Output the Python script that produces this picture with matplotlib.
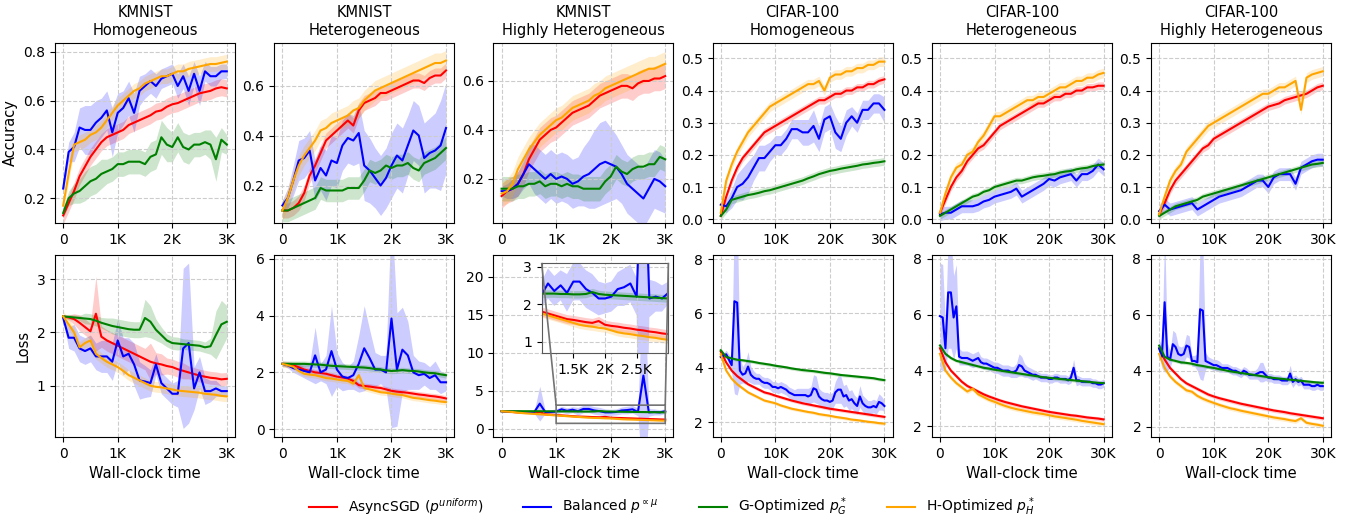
import numpy as np
import matplotlib.pyplot as plt
from matplotlib.ticker import FuncFormatter, MultipleLocator

# time extent of each dataset (x of every series = evenly spaced over it)
KM_T_MAX = 3000
CF_T_MAX = 30000

# ---------------- KMNIST, homogeneous ----------------
kh_acc_async = [0.13, 0.18, 0.23, 0.29, 0.33, 0.37, 0.40, 0.43, 0.45, 0.46, 0.47, 0.48, 0.50, 0.51, 0.52, 0.53,
                0.54, 0.555, 0.56, 0.575, 0.585, 0.59, 0.60, 0.61, 0.62, 0.63, 0.635, 0.64, 0.65, 0.655, 0.65]
kh_acc_bal = [0.24, 0.39, 0.41, 0.49, 0.48, 0.48, 0.51, 0.53, 0.56, 0.47, 0.55, 0.57, 0.61, 0.55, 0.64, 0.66,
              0.68, 0.66, 0.69, 0.70, 0.71, 0.66, 0.70, 0.64, 0.71, 0.64, 0.72, 0.70, 0.70, 0.72, 0.72]
kh_acc_bal_sd = [0.02, 0.04, 0.06, 0.08, 0.10, 0.10, 0.09, 0.08, 0.08, 0.10, 0.08, 0.07, 0.07, 0.08, 0.06, 0.05,
                 0.05, 0.05, 0.04, 0.04, 0.04, 0.05, 0.05, 0.06, 0.05, 0.06, 0.04, 0.04, 0.04, 0.03, 0.03]
kh_acc_g = [0.14, 0.20, 0.22, 0.23, 0.25, 0.27, 0.28, 0.30, 0.31, 0.32, 0.34, 0.34, 0.35, 0.35, 0.35, 0.34,
            0.37, 0.38, 0.45, 0.42, 0.41, 0.45, 0.41, 0.40, 0.42, 0.42, 0.43, 0.42, 0.36, 0.44, 0.42]
kh_acc_g_sd = [0.02, 0.03, 0.04, 0.05, 0.06, 0.06, 0.06, 0.06, 0.05, 0.05, 0.05, 0.05, 0.05, 0.05, 0.05, 0.05,
               0.06, 0.06, 0.07, 0.07, 0.06, 0.06, 0.06, 0.06, 0.05, 0.05, 0.05, 0.06, 0.09, 0.05, 0.04]
kh_acc_h = [0.17, 0.30, 0.42, 0.43, 0.44, 0.46, 0.47, 0.49, 0.52, 0.55, 0.58, 0.60, 0.62, 0.64, 0.65, 0.67,
            0.68, 0.69, 0.70, 0.70, 0.71, 0.72, 0.72, 0.73, 0.735, 0.74, 0.745, 0.75, 0.75, 0.755, 0.76]

kh_loss_async = [2.30, 2.28, 2.25, 2.18, 2.10, 2.02, 2.35, 1.92, 1.85, 1.80, 1.75, 1.70, 1.65, 1.60, 1.55, 1.50,
                 1.45, 1.42, 1.40, 1.37, 1.35, 1.31, 1.28, 1.25, 1.22, 1.19, 1.17, 1.15, 1.14, 1.12, 1.13]
kh_loss_async_sd = [0.02, 0.05, 0.10, 0.15, 0.15, 0.15, 0.70, 0.20, 0.20, 0.20, 0.20, 0.20, 0.20, 0.20, 0.20, 0.20,
                    0.35, 0.20, 0.20, 0.15, 0.15, 0.15, 0.15, 0.12, 0.12, 0.12, 0.12, 0.12, 0.12, 0.12, 0.12]
kh_loss_bal = [2.27, 1.90, 1.90, 1.70, 1.65, 1.70, 1.55, 1.55, 1.55, 1.45, 1.85, 1.55, 1.60, 1.40, 1.10, 1.08,
               1.05, 1.40, 1.05, 0.95, 0.85, 0.85, 1.70, 1.80, 0.95, 1.25, 0.90, 0.90, 0.95, 0.90, 0.90]
kh_loss_bal_sd = [0.05, 0.20, 0.25, 0.25, 0.25, 0.25, 0.25, 0.30, 0.30, 0.35, 0.40, 0.35, 0.30, 0.40, 0.35, 0.30,
                  0.25, 0.20, 0.20, 0.20, 0.20, 0.25, 1.50, 1.50, 0.40, 0.30, 0.25, 0.20, 0.15, 0.10, 0.10]
kh_loss_g = [2.30, 2.29, 2.28, 2.27, 2.26, 2.25, 2.22, 2.18, 2.15, 2.12, 2.10, 2.08, 2.06, 2.05, 2.05, 2.27,
             2.20, 2.05, 1.95, 1.85, 1.80, 1.79, 1.78, 1.77, 1.76, 1.75, 1.72, 1.74, 1.95, 2.15, 2.20]
kh_loss_g_sd = [0.02, 0.05, 0.05, 0.05, 0.10, 0.10, 0.10, 0.10, 0.12, 0.15, 0.15, 0.15, 0.15, 0.15, 0.15, 0.35,
                0.30, 0.20, 0.15, 0.12, 0.12, 0.12, 0.10, 0.10, 0.10, 0.10, 0.10, 0.15, 0.45, 0.45, 0.30]
kh_loss_h = [2.30, 2.15, 2.00, 1.72, 1.80, 1.85, 1.60, 1.52, 1.45, 1.40, 1.35, 1.28, 1.20, 1.15, 1.10, 1.05,
             1.00, 0.98, 0.97, 0.95, 0.93, 0.91, 0.90, 0.89, 0.88, 0.87, 0.85, 0.84, 0.83, 0.81, 0.80]

# ---------------- KMNIST, heterogeneous ----------------
ke_acc_async = [0.10, 0.10, 0.11, 0.13, 0.17, 0.24, 0.28, 0.33, 0.38, 0.40, 0.42, 0.44, 0.46, 0.44, 0.50, 0.53,
                0.54, 0.55, 0.57, 0.57, 0.58, 0.59, 0.60, 0.61, 0.62, 0.62, 0.61, 0.63, 0.64, 0.64, 0.66]
ke_acc_bal = [0.12, 0.15, 0.22, 0.30, 0.31, 0.34, 0.22, 0.27, 0.24, 0.30, 0.29, 0.36, 0.39, 0.38, 0.41, 0.28,
              0.26, 0.23, 0.20, 0.23, 0.28, 0.32, 0.30, 0.36, 0.42, 0.40, 0.31, 0.33, 0.34, 0.36, 0.43]
ke_acc_bal_sd = [0.02, 0.04, 0.06, 0.08, 0.08, 0.08, 0.08, 0.09, 0.10, 0.10, 0.10, 0.10, 0.10, 0.10, 0.12, 0.14,
                 0.13, 0.12, 0.12, 0.12, 0.13, 0.13, 0.13, 0.12, 0.12, 0.12, 0.14, 0.14, 0.15, 0.18, 0.18]
ke_acc_g = [0.10, 0.10, 0.11, 0.12, 0.13, 0.14, 0.15, 0.19, 0.18, 0.18, 0.18, 0.18, 0.19, 0.19, 0.19, 0.22,
            0.26, 0.25, 0.26, 0.28, 0.27, 0.28, 0.28, 0.29, 0.27, 0.26, 0.29, 0.30, 0.31, 0.33, 0.35]
ke_acc_h = [0.10, 0.15, 0.22, 0.28, 0.32, 0.35, 0.38, 0.42, 0.43, 0.45, 0.46, 0.47, 0.48, 0.50, 0.51, 0.54,
            0.56, 0.58, 0.59, 0.60, 0.61, 0.62, 0.63, 0.64, 0.65, 0.66, 0.67, 0.68, 0.69, 0.69, 0.70]

ke_loss_async = [2.30, 2.28, 2.25, 2.18, 2.10, 2.05, 2.00, 1.98, 1.95, 1.90, 1.85, 1.82, 1.78, 1.70, 1.55, 1.52,
                 1.50, 1.47, 1.45, 1.40, 1.35, 1.32, 1.30, 1.28, 1.25, 1.22, 1.20, 1.17, 1.15, 1.12, 1.08]
ke_loss_bal = [2.30, 2.25, 2.15, 2.10, 2.05, 2.00, 2.60, 2.00, 2.10, 2.75, 2.10, 1.85, 1.80, 1.90, 2.30, 2.85,
               2.50, 2.10, 2.10, 2.00, 3.90, 2.10, 2.80, 2.60, 2.00, 1.90, 1.95, 1.80, 1.90, 1.65, 1.65]
ke_loss_bal_sd = [0.02, 0.10, 0.15, 0.20, 0.25, 0.30, 1.00, 0.30, 0.50, 1.60, 0.60, 0.50, 0.40, 0.50, 1.00, 1.50,
                  1.00, 0.60, 0.50, 0.60, 3.85, 2.00, 1.50, 1.20, 0.60, 0.50, 0.40, 0.40, 0.50, 0.40, 0.30]
ke_loss_g = [2.30, 2.30, 2.30, 2.30, 2.30, 2.29, 2.28, 2.27, 2.25, 2.23, 2.22, 2.21, 2.20, 2.19, 2.18, 2.17,
             2.15, 2.12, 2.10, 2.07, 2.05, 2.06, 2.08, 2.06, 2.05, 2.03, 2.00, 1.98, 1.97, 1.93, 1.90]
ke_loss_h = [2.30, 2.25, 2.20, 2.05, 1.95, 1.92, 1.90, 1.85, 1.80, 1.78, 1.75, 1.72, 1.70, 1.60, 1.90, 1.45,
             1.40, 1.35, 1.30, 1.28, 1.25, 1.22, 1.20, 1.15, 1.10, 1.08, 1.05, 1.02, 1.00, 0.97, 0.95]

# ---------------- KMNIST, highly heterogeneous ----------------
kx_acc_async = [0.13, 0.15, 0.16, 0.18, 0.22, 0.28, 0.32, 0.36, 0.38, 0.40, 0.41, 0.43, 0.45, 0.47, 0.48, 0.49,
                0.50, 0.52, 0.54, 0.55, 0.56, 0.57, 0.58, 0.58, 0.57, 0.59, 0.60, 0.60, 0.61, 0.61, 0.62]
kx_acc_bal = [0.15, 0.15, 0.16, 0.18, 0.22, 0.26, 0.24, 0.22, 0.20, 0.22, 0.20, 0.21, 0.20, 0.18, 0.19, 0.21,
              0.22, 0.24, 0.26, 0.27, 0.26, 0.25, 0.22, 0.18, 0.16, 0.14, 0.12, 0.16, 0.20, 0.19, 0.17]
kx_acc_bal_sd = [0.02, 0.03, 0.04, 0.05, 0.06, 0.08, 0.10, 0.10, 0.10, 0.10, 0.10, 0.10, 0.10, 0.10, 0.10, 0.12,
                 0.14, 0.16, 0.17, 0.17, 0.15, 0.13, 0.12, 0.12, 0.12, 0.12, 0.12, 0.12, 0.12, 0.12, 0.11]
kx_acc_g = [0.16, 0.16, 0.16, 0.17, 0.17, 0.18, 0.18, 0.19, 0.17, 0.18, 0.18, 0.17, 0.18, 0.17, 0.17, 0.16,
            0.16, 0.16, 0.16, 0.19, 0.21, 0.25, 0.23, 0.22, 0.24, 0.25, 0.25, 0.26, 0.26, 0.29, 0.28]
kx_acc_h = [0.14, 0.15, 0.18, 0.24, 0.28, 0.32, 0.35, 0.38, 0.40, 0.42, 0.44, 0.45, 0.47, 0.49, 0.50, 0.51,
            0.52, 0.54, 0.55, 0.57, 0.58, 0.59, 0.60, 0.61, 0.62, 0.63, 0.64, 0.65, 0.65, 0.66, 0.67]

kx_loss_async = [2.30, 2.25, 2.20, 2.15, 2.10, 2.07, 2.05, 2.20, 1.90, 1.85, 1.80, 1.75, 1.70, 1.65, 1.60, 1.58,
                 1.55, 1.52, 1.50, 1.55, 1.45, 1.42, 1.40, 1.37, 1.35, 1.32, 1.30, 1.27, 1.25, 1.22, 1.20]
kx_loss_bal = [2.30, 2.30, 2.25, 2.25, 2.20, 2.20, 2.20, 3.30, 2.20, 2.20, 2.25, 2.55, 2.35, 2.50, 2.30, 2.60,
               2.60, 2.40, 2.30, 2.15, 2.15, 2.20, 2.40, 2.45, 2.55, 2.20, 7.00, 2.15, 2.20, 2.15, 2.30]
kx_loss_bal_sd = [0.02, 0.05, 0.10, 0.10, 0.10, 0.15, 0.20, 2.30, 0.20, 0.30, 0.35, 0.40, 0.40, 0.40, 0.50, 0.50,
                  0.50, 0.50, 0.50, 0.45, 0.40, 0.40, 0.45, 0.50, 0.50, 0.50, 15.0, 0.50, 0.40, 0.35, 0.30]
kx_loss_g = [2.30, 2.30, 2.30, 2.30, 2.30, 2.30, 2.30, 2.30, 2.29, 2.29, 2.28, 2.28, 2.28, 2.27, 2.27, 2.26,
             2.26, 2.27, 2.32, 2.27, 2.25, 2.24, 2.23, 2.22, 2.21, 2.20, 2.19, 2.18, 2.17, 2.16, 2.15]
kx_loss_h = [2.30, 2.25, 2.20, 2.10, 2.05, 2.00, 1.95, 1.90, 1.85, 1.80, 1.75, 1.70, 1.65, 1.60, 1.55, 1.50,
             1.45, 1.42, 1.40, 1.37, 1.35, 1.30, 1.25, 1.22, 1.20, 1.17, 1.15, 1.12, 1.10, 1.07, 1.05]

# ---------------- CIFAR-100, homogeneous ----------------
ch_acc_async = [0.01, 0.07, 0.12, 0.16, 0.19, 0.21, 0.23, 0.25, 0.27, 0.28, 0.29, 0.30, 0.31, 0.32, 0.33, 0.34,
                0.35, 0.36, 0.37, 0.37, 0.38, 0.39, 0.39, 0.40, 0.40, 0.41, 0.41, 0.42, 0.42, 0.43, 0.435]
ch_acc_bal = [0.045, 0.04, 0.065, 0.10, 0.11, 0.13, 0.16, 0.19, 0.19, 0.21, 0.23, 0.23, 0.25, 0.28, 0.28, 0.27,
              0.27, 0.29, 0.25, 0.31, 0.32, 0.27, 0.25, 0.30, 0.32, 0.30, 0.34, 0.34, 0.36, 0.36, 0.34]
ch_acc_bal_sd = [0.01, 0.02, 0.03, 0.04, 0.05, 0.05, 0.04, 0.04, 0.04, 0.03, 0.03, 0.03, 0.03, 0.03, 0.03, 0.04,
                 0.04, 0.05, 0.04, 0.04, 0.04, 0.05, 0.04, 0.04, 0.03, 0.03, 0.03, 0.03, 0.03, 0.03, 0.04]
ch_acc_g = [0.01, 0.03, 0.06, 0.065, 0.07, 0.075, 0.078, 0.082, 0.087, 0.09, 0.095, 0.10, 0.105, 0.11, 0.115,
            0.12, 0.127, 0.133, 0.14, 0.145, 0.15, 0.153, 0.157, 0.16, 0.163, 0.166, 0.17, 0.172, 0.175, 0.177, 0.18]
ch_acc_h = [0.02, 0.12, 0.17, 0.21, 0.24, 0.27, 0.29, 0.31, 0.33, 0.35, 0.36, 0.37, 0.38, 0.39, 0.40, 0.41,
            0.42, 0.42, 0.43, 0.40, 0.44, 0.45, 0.45, 0.46, 0.46, 0.47, 0.47, 0.48, 0.48, 0.49, 0.49]

ch_loss_async = [4.60, 4.20, 3.90, 3.70, 3.55, 3.40, 3.30, 3.20, 3.10, 3.05, 2.98, 2.92, 2.86, 2.80, 2.75, 2.70,
                 2.66, 2.62, 2.58, 2.54, 2.50, 2.47, 2.44, 2.41, 2.38, 2.35, 2.32, 2.29, 2.26, 2.23, 2.20]
ch_loss_bal = [4.40, 4.45, 4.50, 4.30, 4.10, 6.45, 6.40, 3.90, 3.75, 3.80,
               4.05, 3.75, 3.65, 3.60, 3.60, 3.50, 3.45, 3.45, 3.40, 3.30,
               3.30, 3.25, 3.30, 3.25, 3.20, 3.10, 3.05, 3.00, 3.00, 3.00,
               3.00, 3.00, 2.95, 3.00, 3.25, 3.20, 2.95, 2.85, 2.80, 2.80,
               2.75, 2.80, 3.10, 3.20, 3.20, 2.95, 3.00, 2.80, 2.85, 2.70,
               2.60, 2.95, 2.70, 2.60, 2.55, 2.55, 2.60, 2.55, 2.75, 2.70,
               2.60]
ch_loss_bal_sd = [0.05, 0.10, 0.15, 0.20, 0.30, 3.40, 3.40, 0.50, 0.30, 0.40,
                  0.55, 0.30, 0.25, 0.20, 0.20, 0.20, 0.20, 0.20, 0.20, 0.20,
                  0.20, 0.20, 0.20, 0.20, 0.20, 0.20, 0.20, 0.20, 0.25, 0.25,
                  0.25, 0.25, 0.30, 0.30, 0.50, 0.50, 0.30, 0.30, 0.30, 0.30,
                  0.30, 0.30, 0.40, 0.50, 0.50, 0.40, 0.40, 0.35, 0.35, 0.30,
                  0.30, 0.40, 0.30, 0.30, 0.25, 0.25, 0.25, 0.25, 0.30, 0.25,
                  0.20]
ch_loss_g = [4.65, 4.40, 4.35, 4.30, 4.28, 4.25, 4.22, 4.18, 4.15, 4.12, 4.08, 4.05, 4.02, 3.98, 3.95, 3.92,
             3.90, 3.88, 3.85, 3.82, 3.80, 3.77, 3.74, 3.72, 3.70, 3.68, 3.66, 3.64, 3.62, 3.58, 3.55]
ch_loss_h = [4.50, 3.90, 3.60, 3.40, 3.25, 3.10, 3.00, 2.90, 2.80, 2.75, 2.70, 2.62, 2.56, 2.50, 2.46, 2.42,
             2.38, 2.35, 2.30, 2.27, 2.24, 2.20, 2.17, 2.14, 2.10, 2.08, 2.05, 2.02, 2.00, 1.97, 1.95]

# ---------------- CIFAR-100, heterogeneous ----------------
ce_acc_async = [0.02, 0.06, 0.10, 0.13, 0.15, 0.18, 0.20, 0.22, 0.23, 0.25, 0.27, 0.29, 0.30, 0.31, 0.32, 0.33,
                0.34, 0.35, 0.36, 0.36, 0.37, 0.38, 0.38, 0.39, 0.39, 0.40, 0.40, 0.41, 0.41, 0.415, 0.415]
ce_acc_bal = [0.015, 0.02, 0.02, 0.03, 0.04, 0.04, 0.04, 0.045, 0.055, 0.06, 0.07, 0.075, 0.08, 0.085, 0.095,
              0.07, 0.08, 0.09, 0.10, 0.11, 0.125, 0.12, 0.13, 0.135, 0.14, 0.12, 0.14, 0.14, 0.15, 0.17, 0.155]
ce_acc_g = [0.01, 0.02, 0.03, 0.04, 0.05, 0.06, 0.07, 0.075, 0.085, 0.09, 0.10, 0.105, 0.11, 0.115, 0.12, 0.12,
            0.125, 0.13, 0.133, 0.135, 0.138, 0.14, 0.145, 0.148, 0.15, 0.155, 0.158, 0.16, 0.165, 0.168, 0.17]
ce_acc_h = [0.02, 0.08, 0.13, 0.16, 0.17, 0.20, 0.21, 0.24, 0.26, 0.29, 0.32, 0.32, 0.33, 0.34, 0.35, 0.36,
            0.37, 0.37, 0.38, 0.38, 0.39, 0.40, 0.41, 0.41, 0.42, 0.43, 0.43, 0.44, 0.44, 0.45, 0.455]

ce_loss_async = [4.80, 4.30, 4.00, 3.80, 3.60, 3.45, 3.35, 3.25, 3.15, 3.07, 3.00, 2.93, 2.87, 2.82, 2.77, 2.72,
                 2.68, 2.64, 2.60, 2.56, 2.52, 2.49, 2.46, 2.43, 2.40, 2.38, 2.35, 2.32, 2.30, 2.28, 2.25]
ce_loss_bal = [5.95, 5.90, 4.80, 6.80, 6.80, 5.90, 6.30, 4.50, 4.45, 4.45,
               4.45, 4.40, 4.35, 4.40, 4.45, 4.30, 4.25, 4.25, 4.20, 4.15,
               4.10, 4.10, 4.05, 4.00, 4.00, 4.00, 3.95, 3.95, 4.00, 4.20,
               4.15, 4.00, 3.95, 3.90, 3.85, 3.85, 3.80, 3.75, 3.75, 3.75,
               3.70, 3.70, 3.75, 3.75, 3.70, 3.70, 3.70, 3.65, 3.75, 4.10,
               3.65, 3.65, 3.60, 3.60, 3.60, 3.60, 3.55, 3.55, 3.50, 3.50,
               3.55]
ce_loss_bal_sd = [1.90, 1.90, 0.80, 2.00, 2.00, 1.50, 1.50, 0.30, 0.25, 0.25,
                  0.25, 0.25, 0.25, 0.25, 0.25, 0.20, 0.20, 0.20, 0.20, 0.20,
                  0.20, 0.20, 0.20, 0.20, 0.20, 0.20, 0.20, 0.20, 0.25, 0.40,
                  0.35, 0.25, 0.20, 0.20, 0.20, 0.15, 0.15, 0.15, 0.15, 0.15,
                  0.15, 0.15, 0.15, 0.15, 0.15, 0.15, 0.15, 0.15, 0.20, 0.30,
                  0.20, 0.15, 0.15, 0.15, 0.15, 0.15, 0.15, 0.15, 0.15, 0.15,
                  0.15]
ce_loss_g = [4.90, 4.60, 4.45, 4.35, 4.30, 4.25, 4.20, 4.15, 4.10, 4.07, 4.03, 4.00, 3.97, 3.94, 3.91, 3.88,
             3.85, 3.82, 3.79, 3.76, 3.74, 3.72, 3.70, 3.68, 3.66, 3.64, 3.62, 3.60, 3.58, 3.56, 3.55]
ce_loss_h = [4.60, 4.00, 3.75, 3.55, 3.40, 3.25, 3.35, 3.15, 3.05, 2.95, 2.88, 2.80, 2.73, 2.67, 2.62, 2.58,
             2.54, 2.50, 2.47, 2.44, 2.40, 2.36, 2.33, 2.30, 2.27, 2.24, 2.20, 2.17, 2.14, 2.11, 2.08]

# ---------------- CIFAR-100, highly heterogeneous ----------------
cx_acc_async = [0.015, 0.05, 0.09, 0.12, 0.14, 0.16, 0.18, 0.20, 0.22, 0.23, 0.25, 0.26, 0.27, 0.28, 0.29, 0.30,
                0.31, 0.32, 0.33, 0.34, 0.35, 0.355, 0.36, 0.37, 0.375, 0.38, 0.385, 0.39, 0.40, 0.41, 0.415]
cx_acc_bal = [0.025, 0.045, 0.03, 0.035, 0.04, 0.045, 0.05, 0.03, 0.04, 0.05, 0.06, 0.07, 0.075, 0.08, 0.085,
              0.09, 0.10, 0.11, 0.12, 0.12, 0.10, 0.13, 0.14, 0.14, 0.14, 0.11, 0.16, 0.17, 0.18, 0.185, 0.185]
cx_acc_g = [0.01, 0.02, 0.03, 0.04, 0.045, 0.05, 0.055, 0.06, 0.07, 0.075, 0.08, 0.085, 0.09, 0.095, 0.10, 0.105,
            0.11, 0.115, 0.12, 0.125, 0.13, 0.135, 0.14, 0.145, 0.15, 0.155, 0.16, 0.165, 0.17, 0.172, 0.175]
cx_acc_h = [0.015, 0.07, 0.12, 0.15, 0.17, 0.21, 0.23, 0.25, 0.27, 0.29, 0.30, 0.31, 0.32, 0.33, 0.34, 0.35,
            0.36, 0.37, 0.38, 0.39, 0.39, 0.40, 0.41, 0.41, 0.42, 0.43, 0.34, 0.44, 0.45, 0.455, 0.46]

cx_loss_async = [4.80, 4.40, 4.10, 3.90, 3.70, 3.55, 3.45, 3.35, 3.25, 3.15, 3.08, 3.02, 2.97, 2.92, 2.87, 2.82,
                 2.78, 2.74, 2.70, 2.66, 2.62, 2.58, 2.55, 2.52, 2.48, 2.45, 2.42, 2.39, 2.36, 2.33, 2.30]
cx_loss_bal = [4.80, 4.50, 6.45, 4.50, 4.40, 4.95, 4.85, 4.60, 4.55, 4.60,
               4.90, 4.85, 4.35, 4.35, 4.30, 6.20, 6.15, 4.35, 4.30, 4.25,
               4.20, 4.20, 4.15, 4.10, 4.10, 4.10, 4.05, 4.00, 4.00, 3.95,
               3.90, 4.00, 3.95, 3.85, 3.85, 3.85, 3.90, 3.95, 3.95, 3.85,
               3.75, 3.75, 3.70, 3.70, 3.70, 3.65, 3.65, 3.65, 3.90, 3.60,
               3.70, 3.60, 3.65, 3.50, 3.50, 3.50, 3.45, 3.45, 3.50, 3.45,
               3.45]
cx_loss_bal_sd = [0.30, 0.40, 2.50, 0.50, 0.30, 0.50, 0.50, 0.30, 0.30, 0.30,
                  0.40, 0.40, 0.20, 0.20, 0.30, 2.50, 2.50, 0.30, 0.20, 0.20,
                  0.20, 0.20, 0.20, 0.15, 0.15, 0.15, 0.15, 0.15, 0.15, 0.15,
                  0.15, 0.15, 0.15, 0.15, 0.15, 0.15, 0.20, 0.35, 0.35, 0.20,
                  0.15, 0.15, 0.15, 0.15, 0.15, 0.15, 0.15, 0.15, 0.30, 0.20,
                  0.15, 0.15, 0.15, 0.15, 0.15, 0.15, 0.15, 0.15, 0.15, 0.15,
                  0.15]
cx_loss_g = [4.90, 4.50, 4.40, 4.35, 4.30, 4.28, 4.25, 4.20, 4.17, 4.13, 4.10, 4.06, 4.02, 3.98, 3.95, 3.92,
             3.89, 3.86, 3.83, 3.80, 3.77, 3.74, 3.72, 3.70, 3.68, 3.66, 3.64, 3.62, 3.60, 3.58, 3.57]
cx_loss_h = [4.60, 4.10, 3.80, 3.60, 3.45, 3.30, 3.25, 3.10, 3.00, 2.92, 2.85, 2.78, 2.72, 2.66, 2.62, 2.57,
             2.53, 2.49, 2.45, 2.41, 2.37, 2.33, 2.30, 2.27, 2.23, 2.20, 2.30, 2.14, 2.10, 2.07, 2.03]

COLORS = ['red', 'blue', 'green', 'orange']
LABELS = [r'AsyncSGD ($p^{uniform}$)', r'Balanced $p^{\propto\mu}$',
          r'G-Optimized $p^*_G$', r'H-Optimized $p^*_H$']

# (title, t_max, acc series, acc ylim, acc tick step, loss series, loss ylim, loss tick step)
# each series entry: (values, band half-width)
panels = [
    ('KMNIST\nHomogeneous', KM_T_MAX,
     [(kh_acc_async, 0.035), (kh_acc_bal, kh_acc_bal_sd), (kh_acc_g, kh_acc_g_sd), (kh_acc_h, 0.03)],
     (0.099, 0.836), 0.2,
     [(kh_loss_async, kh_loss_async_sd), (kh_loss_bal, kh_loss_bal_sd), (kh_loss_g, kh_loss_g_sd), (kh_loss_h, 0.1)],
     (0.04, 3.45), 1),
    ('KMNIST\nHeterogeneous', KM_T_MAX,
     [(ke_acc_async, 0.03), (ke_acc_bal, ke_acc_bal_sd), (ke_acc_g, 0.045), (ke_acc_h, 0.04)],
     (0.05, 0.77), 0.2,
     [(ke_loss_async, 0.1), (ke_loss_bal, ke_loss_bal_sd), (ke_loss_g, 0.1), (ke_loss_h, 0.1)],
     (-0.28, 6.14), 2),
    ('KMNIST\nHighly Heterogeneous', KM_T_MAX,
     [(kx_acc_async, 0.05), (kx_acc_bal, kx_acc_bal_sd), (kx_acc_g, 0.05), (kx_acc_h, 0.05)],
     (0.02, 0.755), 0.2,
     [(kx_loss_async, 0.12), (kx_loss_bal, kx_loss_bal_sd), (kx_loss_g, 0.1), (kx_loss_h, 0.1)],
     (-1.1, 22.9), 5),
    ('CIFAR-100\nHomogeneous', CF_T_MAX,
     [(ch_acc_async, 0.012), (ch_acc_bal, ch_acc_bal_sd), (ch_acc_g, 0.012), (ch_acc_h, 0.015)],
     (-0.012, 0.548), 0.1,
     [(ch_loss_async, 0.06), (ch_loss_bal, ch_loss_bal_sd), (ch_loss_g, 0.06), (ch_loss_h, 0.06)],
     (1.46, 8.15), 2),
    ('CIFAR-100\nHeterogeneous', CF_T_MAX,
     [(ce_acc_async, 0.012), (ce_acc_bal, 0.02), (ce_acc_g, 0.01), (ce_acc_h, 0.015)],
     (-0.012, 0.548), 0.1,
     [(ce_loss_async, 0.07), (ce_loss_bal, ce_loss_bal_sd), (ce_loss_g, 0.06), (ce_loss_h, 0.08)],
     (1.62, 8.14), 2),
    ('CIFAR-100\nHighly Heterogeneous', CF_T_MAX,
     [(cx_acc_async, 0.012), (cx_acc_bal, 0.02), (cx_acc_g, 0.01), (cx_acc_h, 0.015)],
     (-0.012, 0.548), 0.1,
     [(cx_loss_async, 0.07), (cx_loss_bal, cx_loss_bal_sd), (cx_loss_g, 0.06), (cx_loss_h, 0.08)],
     (1.63, 8.14), 2),
]


def k_format(x, pos):
    if x == 0:
        return '0'
    return f'{x / 1000:g}K'


def draw_series(ax, t_max, series, labels=None):
    for i, ((vals, sd), color) in enumerate(zip(series, COLORS)):
        y = np.asarray(vals, dtype=float)
        t = np.linspace(0, t_max, len(y))
        band = np.broadcast_to(np.asarray(sd, dtype=float), y.shape)
        ax.fill_between(t, y - band, y + band, color=color, alpha=0.2, lw=0)
        ax.plot(t, y, color=color, lw=1.5, label=labels[i] if labels else None)


def style_axis(ax, t_max, ylim, ystep):
    ax.set_xlim(-0.05 * t_max, 1.05 * t_max)
    ax.set_ylim(*ylim)
    ax.xaxis.set_major_locator(MultipleLocator(t_max / 3))
    ax.xaxis.set_major_formatter(FuncFormatter(k_format))
    ax.yaxis.set_major_locator(MultipleLocator(ystep))
    ax.grid(True, linestyle='--', color='0.8', lw=0.8)


fig = plt.figure(figsize=(13.63, 5.19), dpi=100)
W, H = 1363, 519

for i, (title, t_max, acc, acc_lim, acc_step, loss, loss_lim, loss_step) in enumerate(panels):
    left = (55 + 219.2 * i) / W
    ax_a = fig.add_axes([left, 1 - 223 / H, 180 / W, 180 / H])
    ax_l = fig.add_axes([left, 1 - 437 / H, 180 / W, 182 / H])

    draw_series(ax_a, t_max, acc, LABELS if i == 0 else None)
    style_axis(ax_a, t_max, acc_lim, acc_step)
    ax_a.set_title(title, fontsize=10.5)

    draw_series(ax_l, t_max, loss)
    style_axis(ax_l, t_max, loss_lim, loss_step)
    ax_l.set_xlabel('Wall-clock time', fontsize=10.5)

    if i == 0:
        ax_a.set_ylabel('Accuracy', fontsize=10.5)
        ax_l.set_ylabel('Loss', fontsize=10.5)
        legend_ax = ax_a

    if i == 2:
        # zoomed inset for the highly heterogeneous KMNIST loss
        axins = ax_l.inset_axes([0.268, 0.462, 0.704, 0.495])
        draw_series(axins, t_max, loss)
        axins.set_xlim(1000, 3000)
        axins.set_ylim(0.7, 3.1)
        axins.set_xticks([1500, 2000, 2500])
        axins.set_yticks([1, 2, 3])
        axins.xaxis.set_major_formatter(FuncFormatter(k_format))
        axins.grid(True, linestyle='--', color='0.8', lw=0.8)
        for sp in axins.spines.values():
            sp.set_edgecolor('0.35')
        ind = ax_l.indicate_inset_zoom(axins, edgecolor='0.45', alpha=1, linewidth=1.2)
        ind.set_zorder(6)
        # connect the upper corners only (upper-left and upper-right)
        for k, con in enumerate(ind.connectors):
            con.set_visible(k in (1, 3))

handles, labels = legend_ax.get_legend_handles_labels()
fig.legend(handles, labels, loc='center', bbox_to_anchor=(0.493, 0.023), ncol=4,
           frameon=False, fontsize=10, columnspacing=2.9)

fig.savefig('out.png', dpi=100)
